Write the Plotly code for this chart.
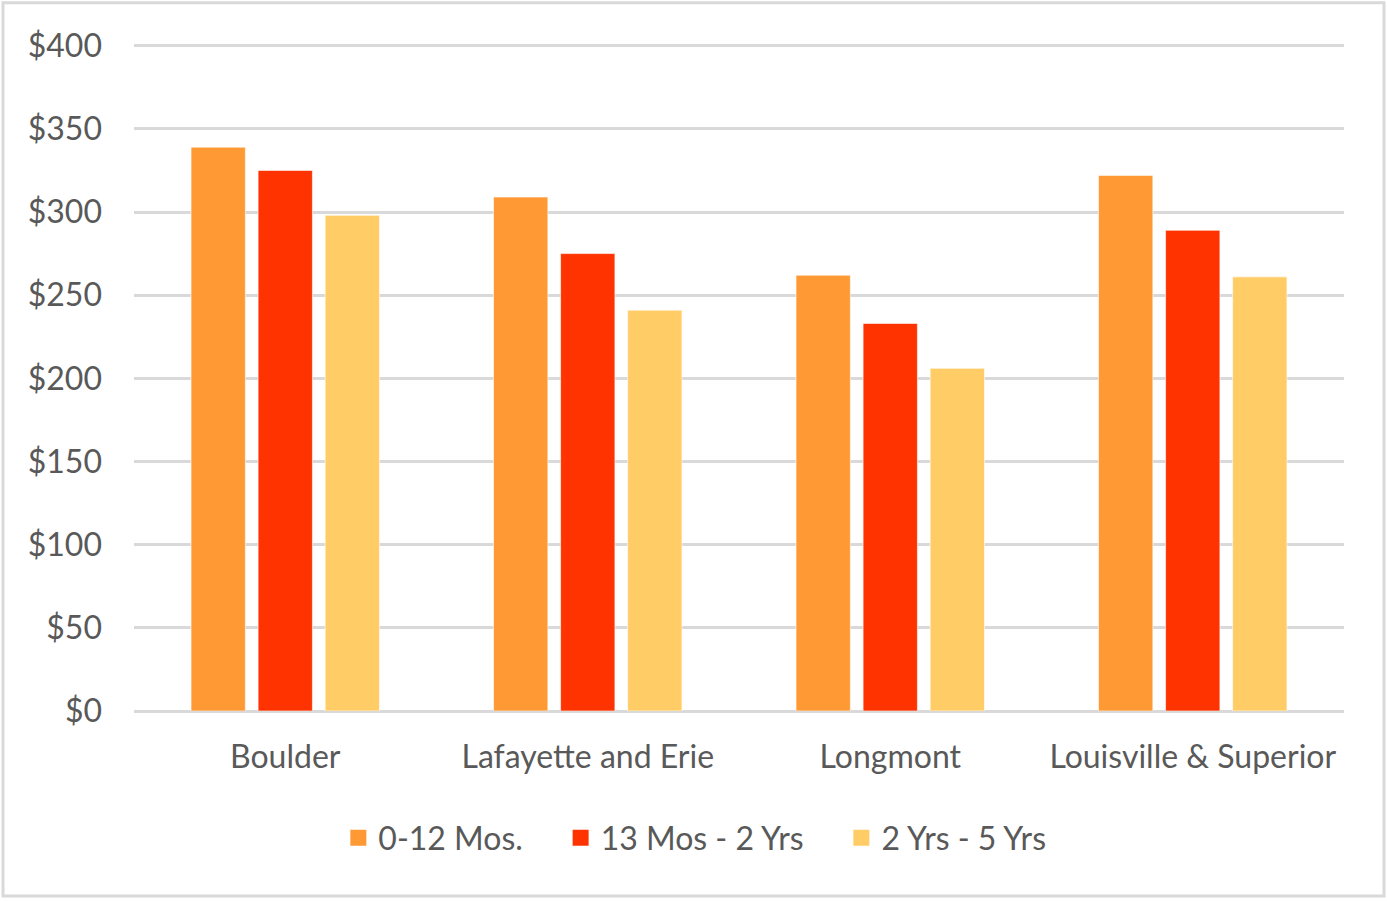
import plotly.graph_objects as go

categories = ["Boulder", "Lafayette and Erie", "Longmont", "Louisville & Superior"]
series_names = ["0-12 Mos.", "13 Mos - 2 Yrs", "2 Yrs - 5 Yrs"]
vals_0_12 = [339, 309, 262, 322]
vals_13_24 = [325, 275, 233, 289]
vals_2_5 = [298, 241, 206, 261]
colors = ["#FF9933", "#FF3300", "#FFCC66"]
y_ticks = [0, 50, 100, 150, 200, 250, 300, 350, 400]
y_labels = ["$" + str(v) for v in y_ticks]

FONT = "Lato"
TXT = "#595959"
FS = 32
PAD = "\u00a0" * 4

fig = go.Figure()
for name, vals, col in zip(series_names, [vals_0_12, vals_13_24, vals_2_5], colors):
    fig.add_trace(go.Bar(
        x=categories, y=vals, name=name, showlegend=False, legendgroup=name,
        marker=dict(color=col, line=dict(color="rgba(255,255,255,0.6)", width=1)),
    ))
for i, (name, col) in enumerate(zip(series_names, colors)):
    label = name + (PAD if i < len(series_names) - 1 else "")
    fig.add_trace(go.Scatter(
        x=[categories[0]], y=[None], name=label, mode="markers", legendgroup=name,
        marker=dict(symbol="square", size=16, color=col),
    ))

top = 401
H = 665 * top / 400
fig.update_layout(
    width=1387, height=901,
    margin=dict(l=134, r=43, t=711 - H, b=190),
    paper_bgcolor="white", plot_bgcolor="white",
    barmode="group", bargap=0.335, bargroupgap=0.19,
    font=dict(family=FONT, size=FS, color=TXT),
    showlegend=True,
    legend=dict(orientation="h", x=0.4635, xanchor="center", y=-127 / H, yanchor="middle",
                font=dict(family=FONT, size=FS, color=TXT), itemwidth=30,
                traceorder="normal"),
    xaxis=dict(showgrid=False, showline=False, ticks="outside", ticklen=18,
               tickcolor="rgba(0,0,0,0)", tickfont=dict(family=FONT, size=FS, color=TXT)),
    yaxis=dict(range=[0, top], tickvals=y_ticks, ticktext=y_labels,
               showgrid=True, gridcolor="#D9D9D9", gridwidth=2.5,
               zeroline=True, zerolinecolor="#D9D9D9", zerolinewidth=2.5,
               showline=False, ticks="", ticklabelstandoff=31,
               tickfont=dict(family=FONT, size=FS, color=TXT)),
    shapes=[dict(type="rect", xref="paper", yref="paper",
                 x0=(3 - 134) / 1210, x1=(1384 - 134) / 1210,
                 y0=(711 - 896) / H, y1=(711 - 3) / H,
                 line=dict(color="#D9D9D9", width=3), fillcolor="rgba(0,0,0,0)", layer="below")],
)

fig.write_html("out.html", config={"displayModeBar": False},
               post_script="document.body.style.margin='0';")
